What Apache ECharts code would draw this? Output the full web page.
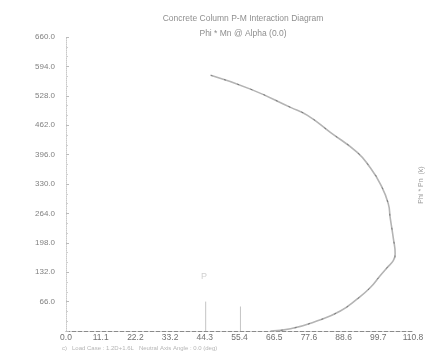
<!DOCTYPE html>
<html>
<head>
<meta charset="utf-8">
<script src="https://cdn.jsdelivr.net/npm/echarts@6/dist/echarts.min.js"></script>
<style>
  html, body { margin: 0; padding: 0; background: #fff; }
  #chart { width: 428px; height: 359px; }
</style>
</head>
<body>
<div id="chart"></div>
<script>
// Interaction curve: design moment (Phi*Mn) against design axial load (Phi*Pn)
const momentValues = [46.2, 58.9, 71.7, 77.1, 84.4, 93.0, 97.1, 100.3, 102.9, 103.5, 104.5, 105.1, 104.5, 102.5, 100.3, 97.1, 93.0, 87.6, 80.3, 71.7, 65.3];
const axialValues  = [574, 543, 502, 484, 446, 401, 367, 331, 286, 255, 209, 173, 158, 142, 124, 97, 72, 45, 23, 5, 0];

// Reference moments marked near the base of the diagram
const refMoments = [44.6, 55.7];
const refHeights = [66, 55];

// Axis scales
const xMax = 110.8, xStep = 11.08;
const yMax = 660, yStep = 66;

const curve = momentValues.map((m, i) => [m, axialValues[i]]);
const refSeries = refMoments.map((m, i) => ({
  type: 'line',
  data: [[m, 0], [m, refHeights[i]]],
  symbol: 'none',
  silent: true,
  lineStyle: { color: '#c4c4c4', width: 1 }
}));

const chart = echarts.init(document.getElementById('chart'));
chart.setOption({
  animation: false,
  backgroundColor: '#ffffff',
  title: {
    text: 'Concrete Column P-M Interaction Diagram',
    subtext: 'Phi * Mn @ Alpha (0.0)',
    left: 238,
    textAlign: 'center',
    top: 9,
    itemGap: 6,
    textStyle: { fontFamily: 'Liberation Sans', fontSize: 8.5, fontWeight: 'normal', color: '#8f8f8f' },
    subtextStyle: { fontFamily: 'Liberation Sans', fontSize: 8.5, color: '#8f8f8f' }
  },
  grid: { left: 66, right: 15, top: 37, bottom: 28 },
  xAxis: {
    type: 'value', min: 0, max: xMax, interval: xStep,
    axisLine: { show: true, lineStyle: { color: '#8a8a8a', width: 1, type: 'dashed' } },
    axisTick: { show: false },
    splitLine: { show: false },
    axisLabel: {
      margin: 2,
      fontFamily: 'Liberation Sans', fontSize: 8.5, color: '#707070',
      formatter: v => v.toFixed(1)
    }
  },
  yAxis: {
    type: 'value', min: 0, max: yMax, interval: yStep,
    axisLine: { show: true, lineStyle: { color: '#c8c8c8', width: 1, type: 'dotted' } },
    axisTick: { show: true, inside: true, length: 3, lineStyle: { color: '#bbb' } },
    minorTick: { show: true, splitNumber: 3, length: 2, lineStyle: { color: '#d0d0d0' } },
    splitLine: { show: false },
    axisLabel: {
      margin: 11,
      fontFamily: 'Liberation Sans', fontSize: 8, color: '#808080',
      formatter: v => v === 0 ? '' : v.toFixed(1)
    }
  },
  graphic: [
    { type: 'text', x: 421, y: 185, rotation: Math.PI / 2, style: { text: 'Phi * Pn  (k)', fontFamily: 'Liberation Sans', fontSize: 7, fill: '#9a9a9a', align: 'center', verticalAlign: 'middle' } },
    { type: 'text', x: 201, y: 272, style: { text: 'P', fontFamily: 'Liberation Sans', fontSize: 9, fill: '#d0d0d0' } },
    { type: 'text', x: 62, y: 345, style: { text: 'c)   Load Case : 1.2D+1.6L   Neutral Axis Angle : 0.0 (deg)', fontFamily: 'Liberation Sans', fontSize: 6, fill: '#b5b5b5' } }
  ],
  series: [
    {
      type: 'line',
      data: curve,
      smooth: 0.5,
      symbol: 'none',
      lineStyle: { color: '#b4b4b4', width: 1.6 }
    },
    {
      type: 'line',
      data: curve,
      smooth: 0.5,
      symbol: 'none',
      lineStyle: { color: '#787878', width: 1, type: [2, 12] }
    },
    ...refSeries
  ]
});
</script>
</body>
</html>
